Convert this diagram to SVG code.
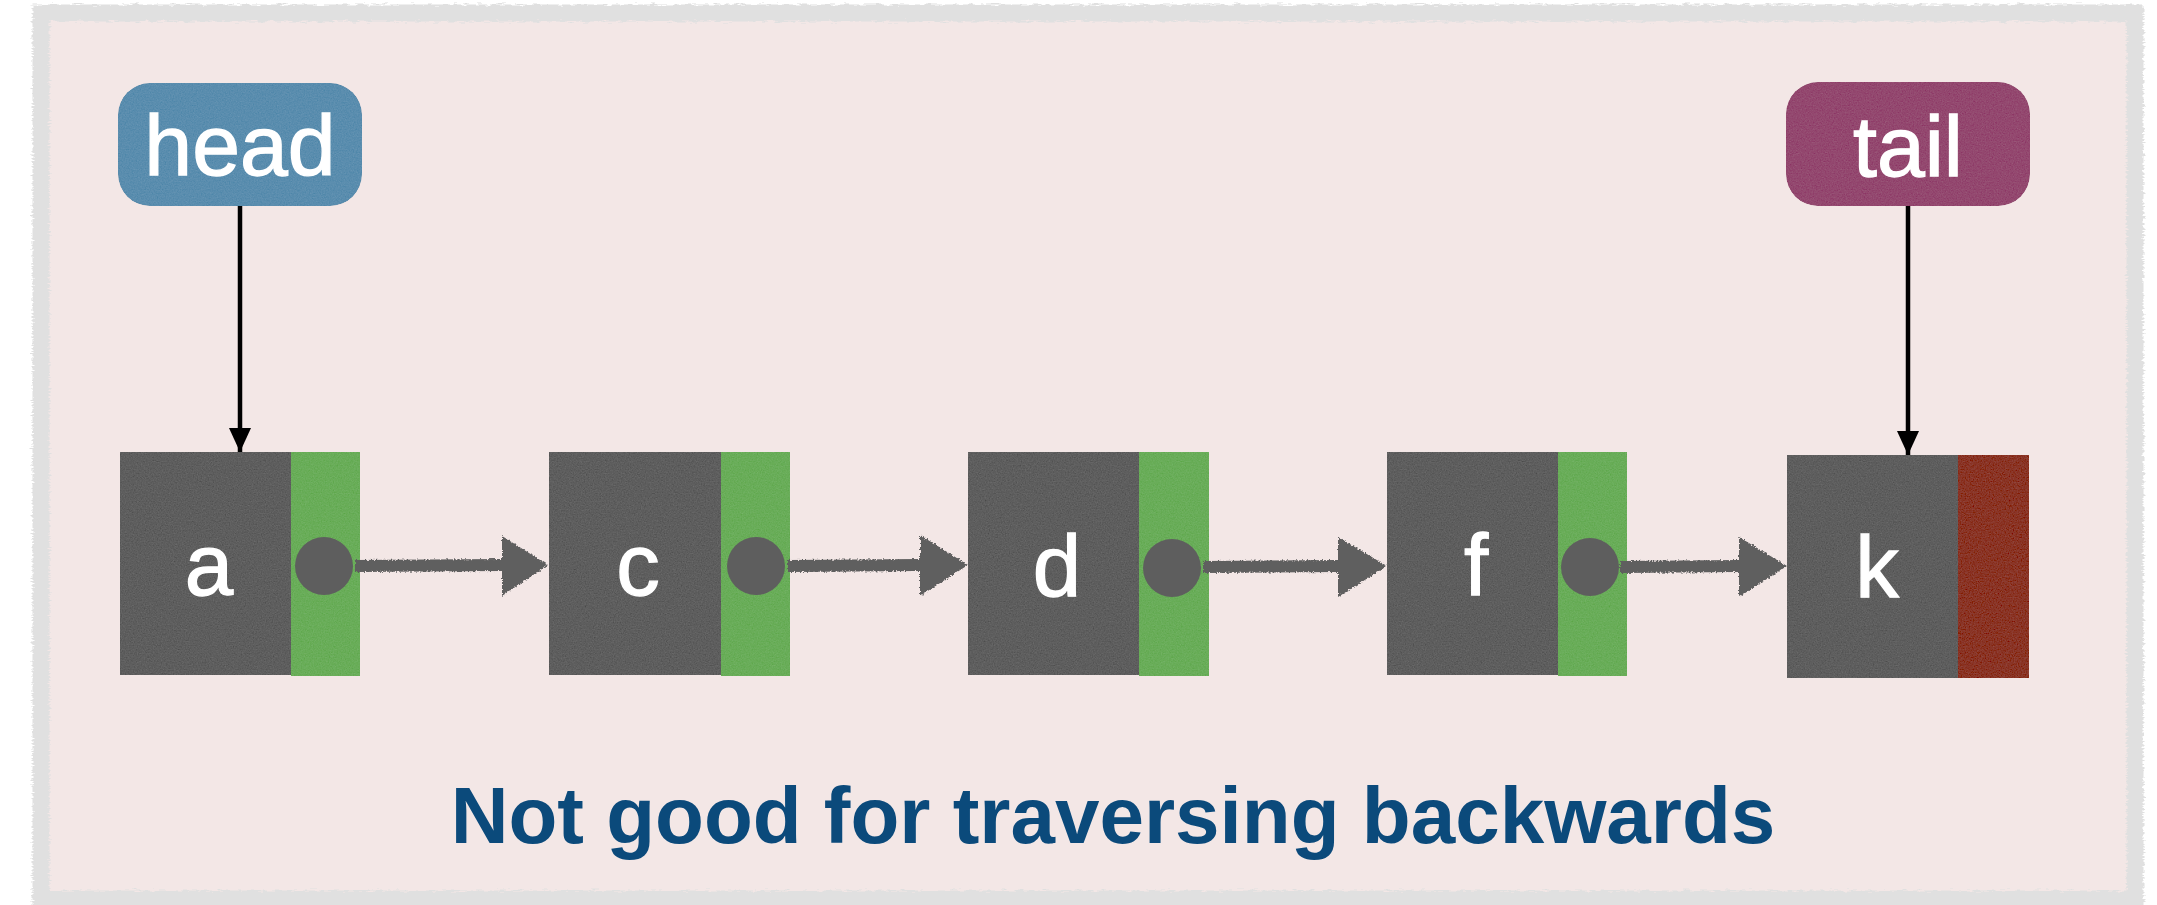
<svg xmlns="http://www.w3.org/2000/svg" width="2157" height="905" viewBox="0 0 2157 905">
  <defs>
    <style>
      .cell { fill: #5e5e5e; }
      .next { fill: #69ad59; }
      .nil { fill: #8a3426; }
      .ptr { fill: #5e5e5e; }
      .val { font-family: "Liberation Sans", Arial, sans-serif; font-size: 87px; fill: #ffffff; stroke: #ffffff; stroke-width: 1.3; text-anchor: middle; }
      .tag { font-family: "Liberation Sans", Arial, sans-serif; font-size: 86px; fill: #ffffff; stroke: #ffffff; stroke-width: 1.3; text-anchor: middle; }
      .caption { font-family: "Liberation Sans", Arial, sans-serif; font-size: 80px; font-weight: bold; fill: #0b4a7b; text-anchor: middle; }
      .link { stroke: #000000; stroke-width: 4.5; fill: none; }
      .chalk { fill: #5e5e5e; }
    </style>
    <!-- paper grain: zero-mean noise added to the fill, clipped to the shape -->
    <filter id="grain" x="0" y="0" width="100%" height="100%">
      <feTurbulence type="fractalNoise" baseFrequency="0.75" numOctaves="3" seed="4" result="noise"/>
      <feColorMatrix in="noise" type="matrix" values="0.33 0.33 0.33 0 0  0.33 0.33 0.33 0 0  0.33 0.33 0.33 0 0  0 0 0 0 1" result="mono"/>
      <feComposite in="SourceGraphic" in2="mono" operator="arithmetic" k1="0" k2="1" k3="0.14" k4="-0.07" result="mix"/>
      <feComposite in="mix" in2="SourceAlpha" operator="in"/>
    </filter>
    <!-- ragged edge for the frame border -->
    <filter id="ragged" x="-2%" y="-3%" width="104%" height="106%">
      <feTurbulence type="fractalNoise" baseFrequency="0.12 0.6" numOctaves="2" seed="7" result="t"/>
      <feDisplacementMap in="SourceGraphic" in2="t" scale="7" xChannelSelector="R" yChannelSelector="G"/>
    </filter>
    <!-- chalky edge for the next-pointer arrows -->
    <filter id="chalky" x="-5%" y="-30%" width="110%" height="160%">
      <feTurbulence type="fractalNoise" baseFrequency="0.55" numOctaves="2" seed="11" result="t"/>
      <feDisplacementMap in="SourceGraphic" in2="t" scale="4" xChannelSelector="R" yChannelSelector="G"/>
    </filter>
    <marker id="tip" viewBox="0 0 24 22" refX="24" refY="11" markerWidth="24" markerHeight="22" markerUnits="userSpaceOnUse" orient="auto">
      <path d="M0,0 L24,11 L0,22 Z" fill="#000000"/>
    </marker>
  </defs>

  <!-- frame -->
  <g id="frame">
    <rect x="41" y="13" width="2094" height="886" fill="#f3e7e6" stroke="#e0e0e0" stroke-width="17" filter="url(#ragged)"/>
  </g>

  <!-- head / tail labels -->
  <g id="head">
    <rect x="118" y="83" width="244" height="123" rx="32" fill="#5a8dae" filter="url(#grain)"/>
    <text class="tag" x="240" y="175">head</text>
  </g>
  <g id="tail">
    <rect x="1786" y="82" width="244" height="124" rx="32" fill="#93486f" filter="url(#grain)"/>
    <text class="tag" x="1908" y="176">tail</text>
  </g>

  <!-- list nodes -->
  <g id="node-a">
    <rect class="cell" x="120" y="452" width="171" height="223" filter="url(#grain)"/>
    <rect class="next" x="291" y="452" width="69" height="224" filter="url(#grain)"/>
    <circle class="ptr" cx="324" cy="566" r="29"/>
    <text class="val" x="209" y="595">a</text>
  </g>
  <g id="node-c">
    <rect class="cell" x="549" y="452" width="172" height="223" filter="url(#grain)"/>
    <rect class="next" x="721" y="452" width="69" height="224" filter="url(#grain)"/>
    <circle class="ptr" cx="756" cy="566" r="29"/>
    <text class="val" x="638" y="595">c</text>
  </g>
  <g id="node-d">
    <rect class="cell" x="968" y="452" width="171" height="223" filter="url(#grain)"/>
    <rect class="next" x="1139" y="452" width="70" height="224" filter="url(#grain)"/>
    <circle class="ptr" cx="1172" cy="568" r="29"/>
    <text class="val" x="1057" y="596">d</text>
  </g>
  <g id="node-f">
    <rect class="cell" x="1387" y="452" width="171" height="223" filter="url(#grain)"/>
    <rect class="next" x="1558" y="452" width="69" height="224" filter="url(#grain)"/>
    <circle class="ptr" cx="1590" cy="567" r="29"/>
    <text class="val" x="1476" y="595">f</text>
  </g>
  <g id="node-k">
    <rect class="cell" x="1787" y="455" width="171" height="223" filter="url(#grain)"/>
    <rect class="nil" x="1958" y="455" width="71" height="223" filter="url(#grain)"/>
    <text class="val" x="1877" y="597">k</text>
  </g>

  <!-- connectors -->
  <g id="connectors">
    <line class="link" x1="240" y1="206" x2="240" y2="452" marker-end="url(#tip)"/>
    <line class="link" x1="1908" y1="206" x2="1908" y2="455" marker-end="url(#tip)"/>
    <g filter="url(#chalky)">
      <path class="chalk" d="M355,560 L502,559 L502,536 L548,565 L502,596 L502,571 L355,572 Z"/>
      <path class="chalk" d="M788,560 L920,559 L920,535 L968,565 L920,596 L920,571 L788,572 Z"/>
      <path class="chalk" d="M1203,561 L1338,560 L1338,537 L1387,566 L1338,597 L1338,572 L1203,573 Z"/>
      <path class="chalk" d="M1620,561 L1739,560 L1739,537 L1787,566 L1739,597 L1739,572 L1620,573 Z"/>
    </g>
  </g>

  <!-- caption -->
  <g id="caption">
    <text class="caption" x="1113" y="843">Not good for traversing backwards</text>
  </g>
</svg>
